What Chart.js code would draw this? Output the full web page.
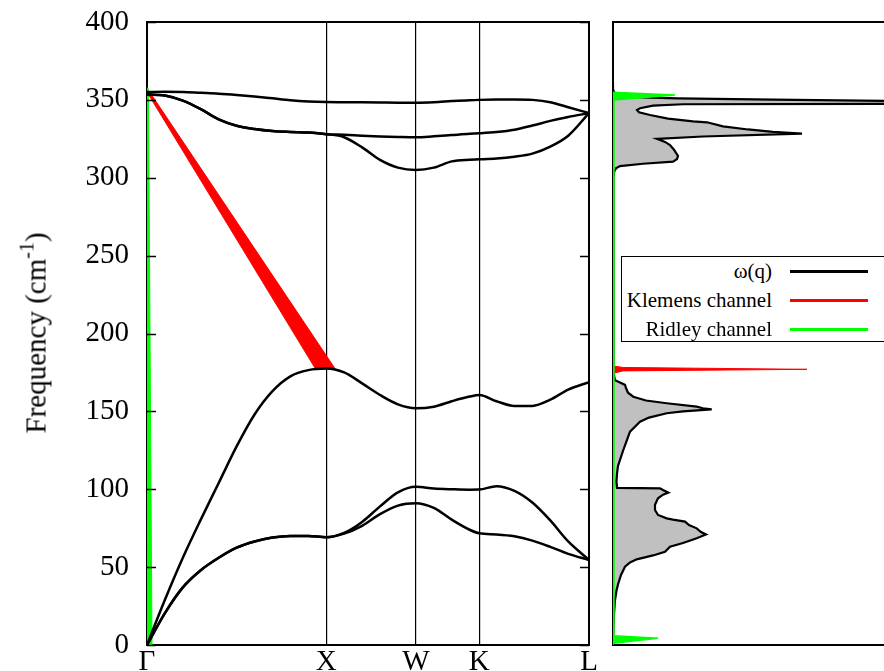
<!DOCTYPE html>
<html lang="en">
<head>
    <meta charset="UTF-8">
    <title>Phonon dispersion and DOS</title>
    <script src="https://cdn.jsdelivr.net/npm/chart.js@4.4.1/dist/chart.umd.min.js"></script>
    <style>
        body {
            margin: 0;
            background: #fff;
            overflow: hidden;
            font-family: "Liberation Serif", "Times New Roman", serif;
        }
        #wrap {
            position: relative;
            width: 884px;
            height: 671px;
            overflow: hidden;
        }
        canvas {
            position: absolute;
            top: 0;
        }
        #disp { left: 0; }
        #dos { left: 600px; }
        #ylabel {
            position: absolute;
            left: 36px;
            top: 333px;
            transform: translate(-50%, -50%) rotate(-90deg);
            font-size: 29px;
            line-height: 29px;
            white-space: nowrap;
            color: #000;
        }
        #ylabel sup {
            font-size: 20px;
            line-height: 0;
            vertical-align: 12px;
        }
        #legend {
            position: absolute;
            left: 621px;
            top: 256px;
            width: 280px;
            height: 86px;
            border: 1.5px solid #000;
            background: #fff;
            box-sizing: border-box;
            font-size: 21px;
            color: #000;
        }
        .row {
            position: absolute;
            left: 0;
            height: 29px;
            width: 100%;
        }
        .row span {
            position: absolute;
            left: 0;
            width: 150px;
            text-align: right;
            line-height: 29px;
            white-space: nowrap;
        }
        .row i {
            position: absolute;
            left: 168px;
            top: 13px;
            width: 78px;
            height: 3px;
        }
    </style>
</head>
<body>
<div id="wrap">
    <canvas id="disp" width="600" height="700"></canvas>
    <canvas id="dos" width="284" height="700"></canvas>
    <div id="ylabel">Frequency (cm<sup>-1</sup>)</div>
    <div id="legend">
        <div class="row" style="top:0px"><span>ω(q)</span><i style="background:#000"></i></div>
        <div class="row" style="top:29px"><span>Klemens channel</span><i style="background:#ff0000"></i></div>
        <div class="row" style="top:58px"><span>Ridley channel</span><i style="background:#00ff00"></i></div>
    </div>
</div>

<script>
    // high symmetry points along the path (Γ-X-W-K-L)
    const qTicks = [0, 1, 1.5, 1.854, 2.466];
    const qLabels = ['Γ', 'X', 'W', 'K', 'L'];

    // sampled wavevector positions
    const qGrid = [0, 0.1, 0.2, 0.3, 0.4, 0.5, 0.6, 0.7, 0.8, 0.9, 1.0,
                   1.1, 1.2, 1.3, 1.4, 1.5,
                   1.6, 1.7, 1.8, 1.854,
                   1.95, 2.05, 2.15, 2.25, 2.35, 2.466];

    // phonon branches (cm-1)
    const ta1 = [0, 20.5, 37, 48, 56, 62.5, 66.5, 69, 70, 70, 69.2,
                 71.5, 76.5, 84, 89.5, 91,
                 88, 80.5, 74, 71.7,
                 71, 69.8, 67, 63, 58.5, 54.6];
    const ta2 = [0, 20.5, 37, 48, 56, 62.5, 66.5, 69, 70, 70, 69.2,
                 72, 79, 89, 98, 101.6,
                 100.5, 100, 99.7, 99.8,
                 102, 99, 91.5, 80, 66.5, 54.6];
    const la = [0, 29, 56, 80.5, 104, 127.5, 148, 163, 172.5, 176.5, 177.5,
                175, 168, 160.5, 154.5, 152,
                153, 156.5, 159.5, 160.5,
                156.5, 153.5, 153.5, 157.5, 164, 168.7];
    const opt1 = [355, 355.2, 355, 354.5, 354, 353.2, 352.2, 351, 349.8, 349, 348.6,
                  348.5, 348.4, 348.3, 348.2, 348.2,
                  348.5, 349.2, 349.8, 350,
                  350.2, 350.3, 350, 348.5, 345.3, 341.5];
    const opt2 = [353.5, 352.8, 349.5, 344, 337.5, 333.4, 331.3, 330, 329.4, 329, 328,
                  327.6, 327, 326.5, 326.2, 326,
                  326.6, 327.4, 328.2, 328.5,
                  329.3, 330.8, 333.5, 336.5, 339, 341.5];
    const opt3 = [353.5, 352.8, 349.5, 344, 337.5, 333.4, 331.3, 330, 329.4, 329, 328,
                  326, 319.5, 311.5, 306.5, 305,
                  306.5, 310.5, 311.6, 311.8,
                  312.3, 313.5, 315.5, 320, 327, 341.5];
    const branches = [ta1, ta2, la, opt1, opt2, opt3];

    // Klemens / Ridley channels in the dispersion panel
    const klemensQ = [0, 0.94, 1.05, 0.015];
    const klemensW = [355, 177.3, 177.3, 355];
    const ridleyQ = [0, 0.028, 0.008, 0];
    const ridleyW = [0, 0, 357, 358];

    // phonon density of states
    const dosW = [0, 10, 20, 28.9, 35, 39.6, 45, 50.3, 53, 55, 57.5, 59.9, 63.1, 65.5, 68.5, 71,
                  72.5, 74.9, 77, 79.2, 80.5, 81.3, 83.5, 86.7, 90, 94.2, 96.5, 97.8, 99.5, 100.6,
                  100.9, 105, 110, 115, 118.8, 125.2, 130, 137, 143.4, 146, 148.8, 150, 151.3,
                  152, 153, 155.2, 157, 159.4, 162, 165, 167, 168.5, 170, 173, 180, 300,
                  304, 306, 307.5, 309, 310.3, 312, 314, 316, 318, 321, 323, 325, 326.5, 328.3,
                  329.5, 331, 333, 335.6, 336.2, 338, 340.3, 342, 343.5, 344.6, 346.3, 347.2,
                  347.5, 348.5, 349.3, 350.2, 351, 351.6, 352.5, 354, 356, 360];
    const dosV = [0, 0.004, 0.01, 0.02, 0.035, 0.053, 0.08, 0.12, 0.17, 0.237, 0.4, 0.52, 0.57, 0.7, 0.837, 0.93,
                  0.88, 0.837, 0.76, 0.72, 0.6, 0.537, 0.45, 0.42, 0.42, 0.45, 0.5, 0.553, 0.5, 0.47,
                  0.04, 0.035, 0.04, 0.05, 0.07, 0.103, 0.13, 0.17, 0.27, 0.36, 0.537, 0.7, 0.987,
                  0.9, 0.837, 0.537, 0.33, 0.203, 0.15, 0.13, 0.12, 0.07, 0.02, 0.01, 0.004, 0.004,
                  0.012, 0.03, 0.07, 0.3, 0.6, 0.64, 0.65, 0.63, 0.61, 0.57, 0.52, 0.44, 0.9, 1.89,
                  1.6, 1.35, 1.1, 0.94, 0.8, 0.55, 0.37, 0.26, 0.24, 0.27, 0.4, 0.7,
                  4, 6, 2.75, 1.6, 0.64, 0.3, 0.08, 0.02, 0.005, 0];

    const klemensDosW = [174.4, 176, 177, 178.2, 179.2];
    const klemensDosV = [0, 0.1, 1.94, 0.1, 0];
    const ridleyDosW = [0, 1.1, 4.3, 6, 349.9, 353.2, 354.9];
    const ridleyDosV = [0, 0, 0.45, 0.01, 0.01, 0.62, 0];

    const RED = '#ff0000';
    const GREEN = '#00ff00';

    Chart.defaults.font.family = '"Liberation Serif", "Times New Roman", serif';
    Chart.defaults.color = '#000';

    function pts(xs, ys) {
        return xs.map((x, i) => ({x: x, y: ys[i]}));
    }

    // keep the plot box where it is, whatever the tick labels need
    function noPad(s) {
        s.paddingTop = 0;
        s.paddingBottom = 0;
        s.paddingLeft = 0;
        s.paddingRight = 0;
    }

    // inward tick marks on both sides of the dispersion panel
    const innerTicks = {
        id: 'innerTicks',
        afterDraw(chart) {
            const {ctx, chartArea: a, scales: {y}} = chart;
            ctx.save();
            ctx.strokeStyle = '#000';
            ctx.lineWidth = 1.5;
            y.ticks.forEach(t => {
                const py = Math.round(y.getPixelForValue(t.value)) + 0.5;
                ctx.beginPath();
                ctx.moveTo(a.left, py);
                ctx.lineTo(a.left + 9, py);
                ctx.moveTo(a.right, py);
                ctx.lineTo(a.right - 9, py);
                ctx.stroke();
            });
            ctx.restore();
        }
    };

    const hidden = {
        ticks: {display: false},
        grid: {display: false, drawTicks: false},
        border: {display: true, color: '#000', width: 2}
    };

    // dispersion panel
    const dispSets = [
        {data: pts(ridleyQ, ridleyW), borderColor: GREEN, backgroundColor: GREEN,
         borderWidth: 1, fill: 'shape', tension: 0},
        {data: pts(klemensQ, klemensW), borderColor: RED, backgroundColor: RED,
         borderWidth: 1, fill: 'shape', tension: 0}
    ];
    branches.forEach(b => {
        dispSets.push({
            data: pts(qGrid, b),
            borderColor: '#000',
            borderWidth: 2.5,
            fill: false,
            cubicInterpolationMode: 'monotone'
        });
    });
    dispSets.reverse(); // black curves on top

    new Chart(document.getElementById('disp'), {
        type: 'line',
        data: {datasets: dispSets},
        options: {
            responsive: false,
            animation: false,
            events: [],
            elements: {point: {radius: 0}},
            layout: {padding: {top: 22, right: 11, bottom: 0, left: 0}},
            plugins: {legend: {display: false}, tooltip: {enabled: false}},
            scales: {
                x: {
                    type: 'linear',
                    min: 0,
                    max: 2.466,
                    afterBuildTicks: s => { s.ticks = qTicks.map(v => ({value: v})); },
                    afterFit: s => { s.height = 55; noPad(s); },
                    ticks: {
                        callback: (v, i) => qLabels[i],
                        font: {size: 29},
                        padding: 0,
                        maxRotation: 0,
                        autoSkip: false
                    },
                    grid: {color: '#000', lineWidth: 1.2, drawTicks: false},
                    border: {color: '#000', width: 2}
                },
                x2: Object.assign({type: 'linear', position: 'top', min: 0, max: 2.466,
                    afterFit: s => { s.height = 0; noPad(s); }}, hidden),
                y: {
                    min: 0,
                    max: 400,
                    afterFit: s => { s.width = 147; noPad(s); },
                    ticks: {stepSize: 50, font: {size: 29}, padding: 18},
                    grid: {display: false, drawTicks: false},
                    border: {color: '#000', width: 2}
                },
                y2: Object.assign({position: 'right', min: 0, max: 400,
                    afterFit: s => { s.width = 0; noPad(s); }}, hidden)
            }
        },
        plugins: [innerTicks]
    });

    // density of states panel
    new Chart(document.getElementById('dos'), {
        type: 'line',
        data: {
            datasets: [
                {data: pts(ridleyDosV, ridleyDosW), borderColor: GREEN, backgroundColor: GREEN,
                 borderWidth: 1.5, fill: 'shape', tension: 0},
                {data: pts(klemensDosV, klemensDosW), borderColor: RED, backgroundColor: RED,
                 borderWidth: 1, fill: 'shape', tension: 0},
                {data: pts(dosV, dosW), borderColor: '#000', backgroundColor: '#c0c0c0',
                 borderWidth: 2.2, fill: 'shape', tension: 0}
            ]
        },
        options: {
            responsive: false,
            animation: false,
            events: [],
            elements: {point: {radius: 0}},
            layout: {padding: {top: 22, right: 0, bottom: 0, left: 13}},
            plugins: {legend: {display: false}, tooltip: {enabled: false}},
            scales: {
                x: Object.assign({type: 'linear', min: 0, max: 2.71,
                    afterFit: s => { s.height = 55; noPad(s); }}, hidden),
                x2: Object.assign({type: 'linear', position: 'top', min: 0, max: 2.71,
                    afterFit: s => { s.height = 0; noPad(s); }}, hidden),
                y: Object.assign({min: 0, max: 400,
                    afterFit: s => { s.width = 0; noPad(s); }}, hidden)
            }
        }
    });
</script>
</body>
</html>
